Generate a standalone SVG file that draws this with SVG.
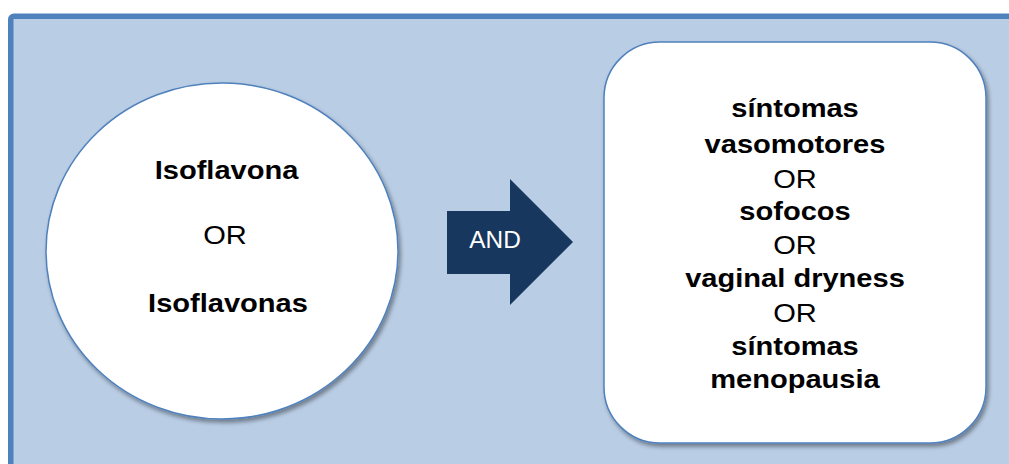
<svg xmlns="http://www.w3.org/2000/svg" width="1009" height="464" viewBox="0 0 1009 464">
<defs>
<filter id="sh" x="-10%" y="-10%" width="125%" height="125%">
<feDropShadow dx="2" dy="3" stdDeviation="2.2" flood-color="#000" flood-opacity="0.4"/>
</filter>
<style>
.t{font-family:"Liberation Sans",Arial,sans-serif;font-size:25.5px;fill:#000;text-anchor:middle}
.b{font-weight:bold}
.w{font-family:"Liberation Sans",Arial,sans-serif;font-size:23px;fill:#fff;text-anchor:middle}
.node{fill:#fff;stroke:#4F81BD;stroke-width:1.5}
</style>
</defs>
<rect x="10.75" y="16.25" width="1020" height="470" rx="3" fill="#B9CDE5" stroke="#4F81BD" stroke-width="5.5"/>
<g id="circle">
<ellipse class="node" cx="222" cy="251" rx="176" ry="168" filter="url(#sh)"/>
<text class="t b" transform="translate(226.5,179.3) scale(1.14,1)">Isoflavona</text>
<text class="t" transform="translate(225,244.3) scale(1.14,1)">OR</text>
<text class="t b" transform="translate(228,311.7) scale(1.14,1)">Isoflavonas</text>
</g>
<g id="connectors">
<g id="arrow">
<polygon points="447,211 510,211 510,179 573,242 510,305 510,274 447,274" fill="#17375E"/>
<text class="w" transform="translate(495,248.3) scale(1.06,1)">AND</text>
</g>
</g>
<g id="box">
<rect class="node" x="604" y="42" width="382" height="401" rx="56" filter="url(#sh)"/>
<text class="t b" transform="translate(795,117) scale(1.14,1)">síntomas</text>
<text class="t b" transform="translate(795,153) scale(1.14,1)">vasomotores</text>
<text class="t" transform="translate(795,187.5) scale(1.14,1)">OR</text>
<text class="t b" transform="translate(795,219.5) scale(1.14,1)">sofocos</text>
<text class="t" transform="translate(795,253.5) scale(1.14,1)">OR</text>
<text class="t b" transform="translate(795,286.7) scale(1.14,1)">vaginal dryness</text>
<text class="t" transform="translate(795,321.7) scale(1.14,1)">OR</text>
<text class="t b" transform="translate(795,355) scale(1.14,1)">síntomas</text>
<text class="t b" transform="translate(795,388.3) scale(1.14,1)">menopausia</text>
</g>
</svg>
